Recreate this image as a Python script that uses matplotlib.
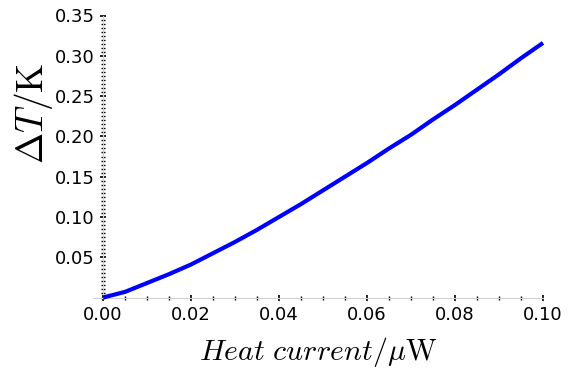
import matplotlib
matplotlib.use("Agg")
import matplotlib.pyplot as plt
from matplotlib.ticker import MultipleLocator, FormatStrFormatter

heat_current = [0.000, 0.005, 0.010, 0.015, 0.020, 0.025, 0.030, 0.035, 0.040, 0.045,
                0.050, 0.055, 0.060, 0.065, 0.070, 0.075, 0.080, 0.085, 0.090, 0.095, 0.100]
delta_T = [0.000, 0.007, 0.018, 0.029, 0.041, 0.055, 0.069, 0.084, 0.100, 0.116,
           0.133, 0.150, 0.167, 0.185, 0.202, 0.221, 0.239, 0.258, 0.277, 0.297, 0.316]
x_ticks = [0.00, 0.02, 0.04, 0.06, 0.08, 0.10]
y_ticks = [0.05, 0.10, 0.15, 0.20, 0.25, 0.30, 0.35]

plt.rcParams['mathtext.fontset'] = 'cm'

fig = plt.figure(figsize=(5.82, 3.78), dpi=100)
ax = fig.add_axes([93/582, 1 - 297.5/378, (543 - 93)/582, (297.5 - 15.5)/378])

ax.plot(heat_current, delta_T, color='#0000ff', lw=3.0, solid_capstyle='butt',
        solid_joinstyle='round', clip_on=False, zorder=3)

ax.set_xlim(-0.0023, 0.1)
ax.set_ylim(0, 0.35)

for s in ['top', 'right']:
    ax.spines[s].set_visible(False)
ax.spines['left'].set_position(('data', 0))
ax.spines['bottom'].set_position(('data', 0))
ax.spines['left'].set_color('#d0d0d0')
ax.spines['bottom'].set_color('#d0d0d0')
ax.spines['left'].set_linewidth(0.8)
ax.spines['bottom'].set_linewidth(0.8)

ax.set_xticks(x_ticks)
ax.set_yticks(y_ticks)
ax.xaxis.set_major_formatter(FormatStrFormatter('%.2f'))
ax.yaxis.set_major_formatter(FormatStrFormatter('%.2f'))
ax.xaxis.set_minor_locator(MultipleLocator(0.005))
ax.yaxis.set_minor_locator(MultipleLocator(0.005))
ax.tick_params(which='major', direction='inout', length=4, width=1.2, color='black', labelsize=13, pad=4)
ax.tick_params(which='minor', direction='inout', length=2.5, width=1.0, color='black')

ax.set_xlabel(r'$Heat\ current/\mu\mathrm{W}$', fontsize=21.5)
ax.xaxis.set_label_coords((318 - 93)/450, -(335 - 297.5)/282)
ax.set_ylabel(r'$\Delta T/\mathrm{K}$', fontsize=27)
ax.yaxis.set_label_coords(-(93 - 55)/450, (297.5 - 113)/282)

fig.savefig('out.png', dpi=100)
